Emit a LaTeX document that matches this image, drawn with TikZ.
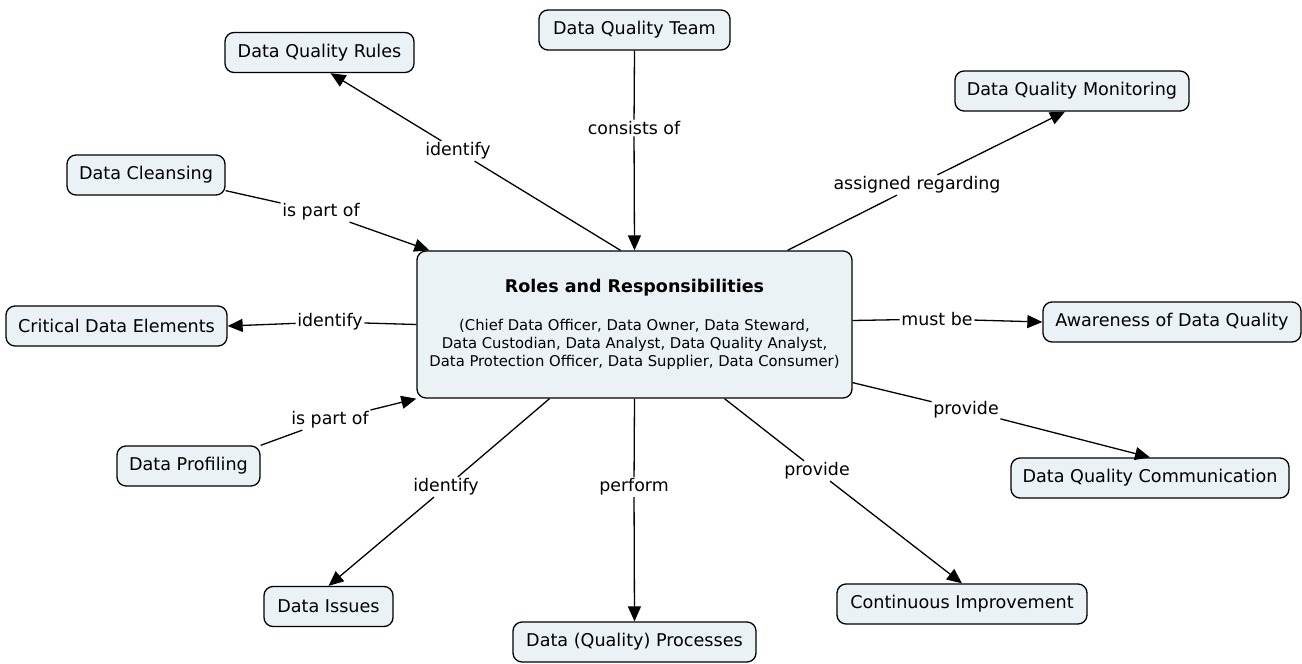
\documentclass[tikz,border=0pt]{standalone}
\usepackage{fontspec}
\setmainfont{DejaVu Sans}
\usetikzlibrary{arrows.meta}
\definecolor{cfill}{RGB}{235,242,245}
\begin{document}
\begin{tikzpicture}[x=1pt,y=-1pt,
  concept/.style={draw=black, line width=1.3pt, fill=cfill, rounded corners=9pt,
    minimum height=40pt, inner xsep=3pt, font=\fontsize{17.6}{20}\selectfont},
  lbl/.style={fill=white, inner sep=1.5pt, font=\fontsize{17.4}{20}\selectfont},
  link/.style={line width=1.3pt},
  arr/.style={line width=1.3pt, -{Triangle[length=15pt,width=13pt]}}]
\useasboundingbox (0,0) rectangle (1302,664);
% concepts
\node[concept, minimum width=191pt] (team) at (634.5,30) {Data Quality Team};
\node[concept, minimum width=189pt] (rules) at (319.5,52.5) {Data Quality Rules};
\node[concept, minimum width=234pt] (monitoring) at (1072,91) {Data Quality Monitoring};
\node[concept, minimum width=158pt] (cleansing) at (146,175) {Data Cleansing};
\node[concept, minimum width=221pt] (critical) at (116.5,326) {Critical Data Elements};
\node[concept, minimum width=258pt] (awareness) at (1172,322) {Awareness of Data Quality};
\node[concept, minimum width=143pt] (profiling) at (188.5,466) {Data Profiling};
\node[concept, minimum width=278pt] (communication) at (1150,478) {Data Quality Communication};
\node[concept, minimum width=129pt] (issues) at (328.5,606.5) {Data Issues};
\node[concept, minimum width=243pt] (processes) at (634.5,642) {Data (Quality) Processes};
\node[concept, minimum width=250pt] (continuous) at (962,604) {Continuous Improvement};
\node[concept, minimum width=435pt, minimum height=147pt, align=center,
  font=\fontsize{14.8}{18}\selectfont] (central) at (634.5,324.5)
  {{\bfseries\fontsize{17.5}{20}\selectfont Roles and Responsibilities}\\[20pt]
   (Chief Data Officer, Data Owner, Data Steward,\\
   Data Custodian, Data Analyst, Data Quality Analyst,\\
   Data Protection Officer, Data Supplier, Data Consumer)};
% link labels
\node[lbl] (lteam) at (634,128) {consists of};
\node[lbl] (lrules) at (458,151) {identify};
\node[lbl] (lmon) at (917,185) {assigned regarding};
\node[lbl] (lcle) at (321,212) {is part of};
\node[lbl] (lcrit) at (330,322) {identify};
\node[lbl] (law) at (937,319) {must be};
\node[lbl] (lprof) at (330,420) {is part of};
\node[lbl] (lcomm) at (966,410) {provide};
\node[lbl] (liss) at (446,487) {identify};
\node[lbl] (lproc) at (634,487) {perform};
\node[lbl] (lcont) at (817,471) {provide};
% connectors
\draw[link] (team.south) -- (lteam);
\draw[arr] (lteam) -- (central.north);
\draw[link] ([xshift=-14pt]central.north) -- (lrules);
\draw[arr] (lrules) -- ([xshift=11pt]rules.south);
\draw[link] ([xshift=153pt]central.north) -- (lmon);
\draw[arr] (lmon) -- ([xshift=-7pt]monitoring.south);
\draw[link] ([yshift=5pt]cleansing.south east) -- (lcle);
\draw[arr] (lcle) -- ([xshift=13pt]central.north west);
\draw[link] (central.west) -- (lcrit);
\draw[arr] (lcrit) -- (critical.east);
\draw[link] ([yshift=4pt]central.east) -- (law);
\draw[arr] (law) -- (awareness.west);
\draw[link] (profiling.north east) -- (lprof);
\draw[arr] (lprof) -- (central.south west);
\draw[link] ([yshift=16pt]central.south east) -- (lcomm);
\draw[arr] (lcomm) -- (communication.north);
\draw[link] ([xshift=-85pt]central.south) -- (liss);
\draw[arr] (liss) -- (issues.north);
\draw[link] (central.south) -- (lproc);
\draw[arr] (lproc) -- (processes.north);
\draw[link] ([xshift=90pt]central.south) -- (lcont);
\draw[arr] (lcont) -- (continuous.north);
\end{tikzpicture}
\end{document}
